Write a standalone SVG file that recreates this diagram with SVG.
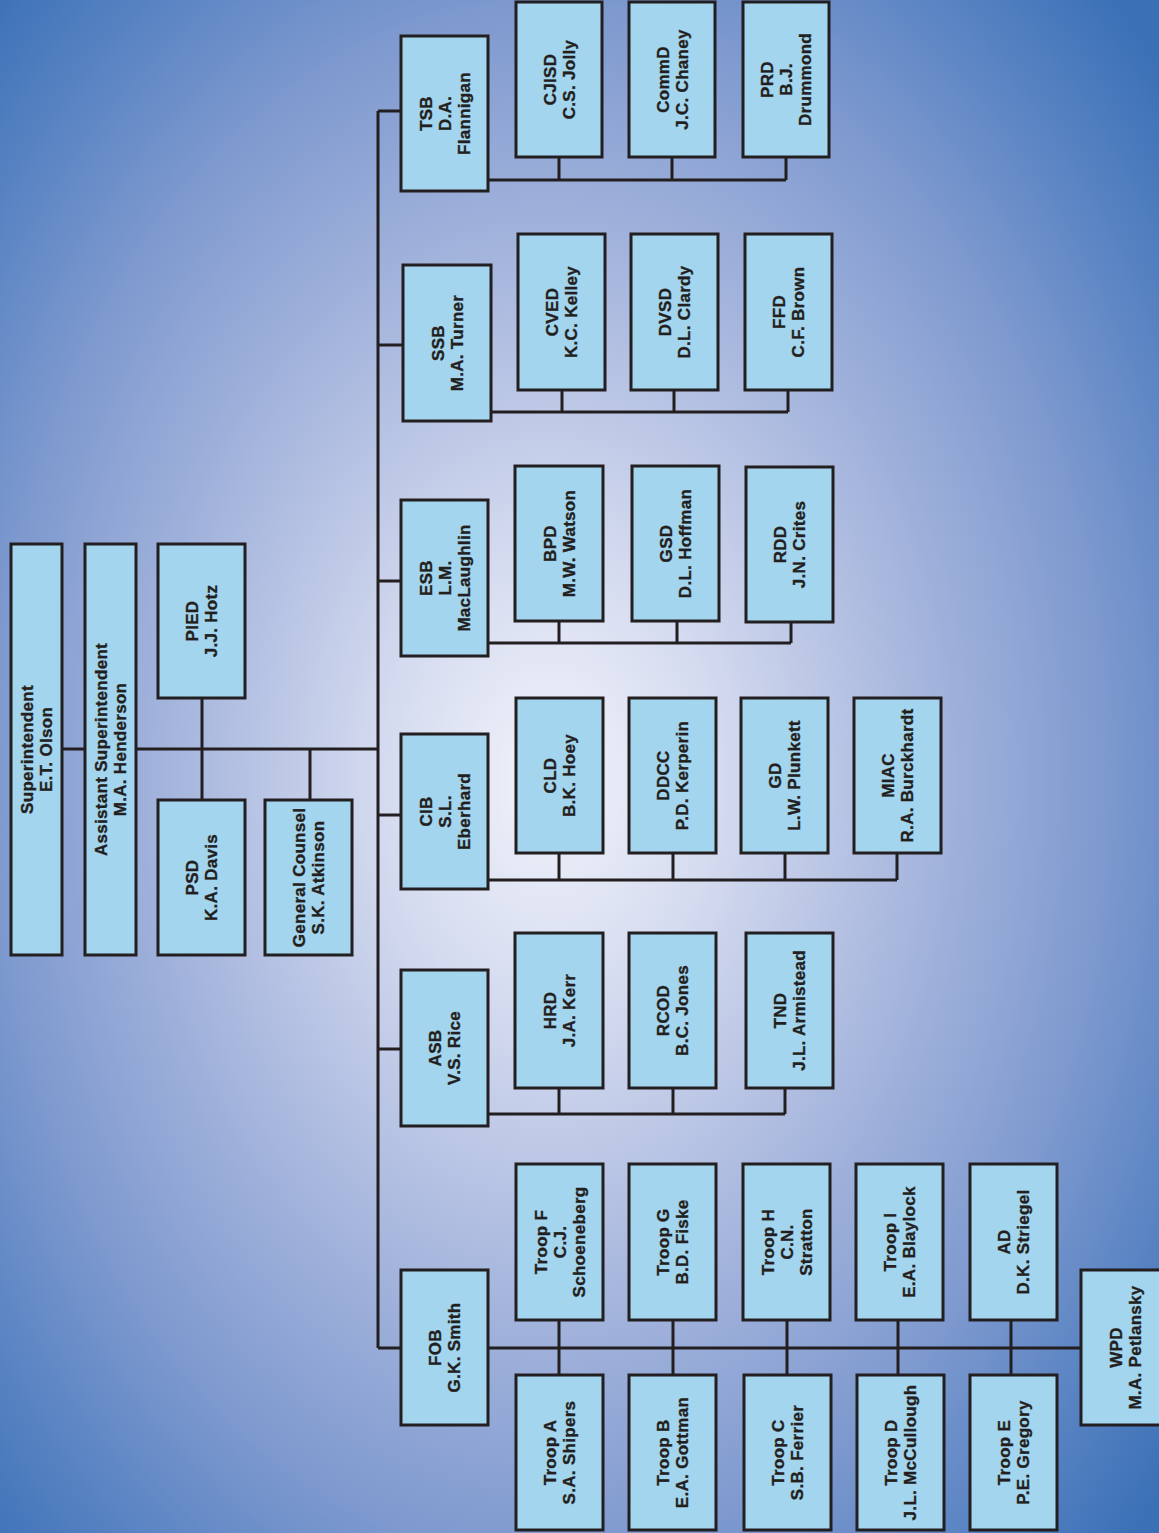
<svg xmlns="http://www.w3.org/2000/svg" width="1159" height="1533" viewBox="0 0 1159 1533">
<defs>
<radialGradient id="bg" cx="550" cy="780" r="800" gradientUnits="userSpaceOnUse" gradientTransform="translate(550 780) scale(1 1.39) translate(-550 -780)">
<stop offset="0" stop-color="#f2f3fa"/>
<stop offset="0.2" stop-color="#d6dcf0"/>
<stop offset="0.45" stop-color="#a9b8de"/>
<stop offset="0.69" stop-color="#7f9acf"/>
<stop offset="0.85" stop-color="#5a84c3"/>
<stop offset="1" stop-color="#3a70b6"/>
</radialGradient>
<style>
.box{fill:#a3d5ef;stroke:#231f20;stroke-width:3}
.t{font-family:"Liberation Sans",Arial,sans-serif;font-weight:bold;font-size:17px;fill:#231f20;stroke:#231f20;stroke-width:0.35px;text-anchor:middle;letter-spacing:0.3px}
.c{fill:none;stroke:#231f20;stroke-width:3}
</style>
</defs>
<rect x="0" y="0" width="1159" height="1533" fill="url(#bg)"/>

<g id="connectors" class="c">
<path d="M378 111 V1348"/>
<path d="M378 111 H401 M378 345 H403 M378 581 H401 M378 815 H401 M378 1049 H401 M378 1348 H401"/>
<path d="M62 749 H85 M137 749 H378 M202 698 V800 M310 749 V800"/>
<path d="M488 180 H786 M559 157 V180 M672 157 V180 M786 157 V180"/>
<path d="M491 412 H788 M562 390 V412 M674 390 V412 M788 390 V412"/>
<path d="M488 643 H791 M559 621 V643 M677 621 V643 M791 622 V643"/>
<path d="M488 880 H897 M559 853 V880 M673 853 V880 M785 853 V880 M897 853 V880"/>
<path d="M488 1114 H785 M559 1088 V1114 M673 1088 V1114 M785 1088 V1114"/>
<path d="M488 1348 H1081 M559 1320 V1375 M673 1320 V1375 M787 1320 V1375 M898 1320 V1375 M1011 1320 V1375"/>
</g>

<g id="superintendent"><rect class="box" x="11" y="544" width="51" height="411"/>
<text class="t" transform="translate(36.5 749.5) rotate(-90)"><tspan x="0" y="-3.5">Superintendent</tspan><tspan x="0" y="15.5">E.T. Olson</tspan></text></g>
<g id="asst-superintendent"><rect class="box" x="85" y="544" width="51" height="411"/>
<text class="t" transform="translate(110.5 749.5) rotate(-90)"><tspan x="0" y="-3.5">Assistant Superintendent</tspan><tspan x="0" y="15.5">M.A. Henderson</tspan></text></g>
<g id="pied"><rect class="box" x="158" y="544" width="87" height="154"/>
<text class="t" transform="translate(201.5 621) rotate(-90)"><tspan x="0" y="-3.5">PIED</tspan><tspan x="0" y="15.5">J.J. Hotz</tspan></text></g>
<g id="psd"><rect class="box" x="158" y="800" width="87" height="155"/>
<text class="t" transform="translate(201.5 877.5) rotate(-90)"><tspan x="0" y="-3.5">PSD</tspan><tspan x="0" y="15.5">K.A. Davis</tspan></text></g>
<g id="general-counsel"><rect class="box" x="265" y="800" width="87" height="155"/>
<text class="t" transform="translate(308.5 877.5) rotate(-90)"><tspan x="0" y="-3.5">General Counsel</tspan><tspan x="0" y="15.5">S.K. Atkinson</tspan></text></g>

<g id="tsb"><rect class="box" x="401" y="36" width="87" height="155"/>
<text class="t" transform="translate(444.5 113.5) rotate(-90)"><tspan x="0" y="-13">TSB</tspan><tspan x="0" y="6">D.A.</tspan><tspan x="0" y="25">Flannigan</tspan></text></g>
<g id="cjisd"><rect class="box" x="516" y="2" width="86" height="155"/>
<text class="t" transform="translate(559 79.5) rotate(-90)"><tspan x="0" y="-3.5">CJISD</tspan><tspan x="0" y="15.5">C.S. Jolly</tspan></text></g>
<g id="commd"><rect class="box" x="629" y="2" width="86" height="155"/>
<text class="t" transform="translate(672 79.5) rotate(-90)"><tspan x="0" y="-3.5">CommD</tspan><tspan x="0" y="15.5">J.C. Chaney</tspan></text></g>
<g id="prd"><rect class="box" x="743" y="2" width="86" height="155"/>
<text class="t" transform="translate(786 79.5) rotate(-90)"><tspan x="0" y="-13">PRD</tspan><tspan x="0" y="6">B.J.</tspan><tspan x="0" y="25">Drummond</tspan></text></g>

<g id="ssb"><rect class="box" x="403" y="265" width="88" height="156"/>
<text class="t" transform="translate(447 343) rotate(-90)"><tspan x="0" y="-3.5">SSB</tspan><tspan x="0" y="15.5">M.A. Turner</tspan></text></g>
<g id="cved"><rect class="box" x="518" y="234" width="87" height="156"/>
<text class="t" transform="translate(561.5 312) rotate(-90)"><tspan x="0" y="-3.5">CVED</tspan><tspan x="0" y="15.5">K.C. Kelley</tspan></text></g>
<g id="dvsd"><rect class="box" x="631" y="234" width="87" height="156"/>
<text class="t" transform="translate(674.5 312) rotate(-90)"><tspan x="0" y="-3.5">DVSD</tspan><tspan x="0" y="15.5">D.L. Clardy</tspan></text></g>
<g id="ffd"><rect class="box" x="745" y="234" width="87" height="156"/>
<text class="t" transform="translate(788.5 312) rotate(-90)"><tspan x="0" y="-3.5">FFD</tspan><tspan x="0" y="15.5">C.F. Brown</tspan></text></g>

<g id="esb"><rect class="box" x="401" y="500" width="87" height="156"/>
<text class="t" transform="translate(444.5 578) rotate(-90)"><tspan x="0" y="-13">ESB</tspan><tspan x="0" y="6">L.M.</tspan><tspan x="0" y="25">MacLaughlin</tspan></text></g>
<g id="bpd"><rect class="box" x="515" y="466" width="88" height="155"/>
<text class="t" transform="translate(559 543.5) rotate(-90)"><tspan x="0" y="-3.5">BPD</tspan><tspan x="0" y="15.5">M.W. Watson</tspan></text></g>
<g id="gsd"><rect class="box" x="632" y="466" width="87" height="155"/>
<text class="t" transform="translate(675.5 543.5) rotate(-90)"><tspan x="0" y="-3.5">GSD</tspan><tspan x="0" y="15.5">D.L. Hoffman</tspan></text></g>
<g id="rdd"><rect class="box" x="746" y="467" width="87" height="155"/>
<text class="t" transform="translate(789.5 544.5) rotate(-90)"><tspan x="0" y="-3.5">RDD</tspan><tspan x="0" y="15.5">J.N. Crites</tspan></text></g>

<g id="cib"><rect class="box" x="401" y="734" width="87" height="155"/>
<text class="t" transform="translate(444.5 811.5) rotate(-90)"><tspan x="0" y="-13">CIB</tspan><tspan x="0" y="6">S.L.</tspan><tspan x="0" y="25">Eberhard</tspan></text></g>
<g id="cld"><rect class="box" x="516" y="698" width="87" height="155"/>
<text class="t" transform="translate(559.5 775.5) rotate(-90)"><tspan x="0" y="-3.5">CLD</tspan><tspan x="0" y="15.5">B.K. Hoey</tspan></text></g>
<g id="ddcc"><rect class="box" x="629" y="698" width="87" height="155"/>
<text class="t" transform="translate(672.5 775.5) rotate(-90)"><tspan x="0" y="-3.5">DDCC</tspan><tspan x="0" y="15.5">P.D. Kerperin</tspan></text></g>
<g id="gd"><rect class="box" x="741" y="698" width="87" height="155"/>
<text class="t" transform="translate(784.5 775.5) rotate(-90)"><tspan x="0" y="-3.5">GD</tspan><tspan x="0" y="15.5">L.W. Plunkett</tspan></text></g>
<g id="miac"><rect class="box" x="854" y="698" width="87" height="155"/>
<text class="t" transform="translate(897.5 775.5) rotate(-90)"><tspan x="0" y="-3.5">MIAC</tspan><tspan x="0" y="15.5">R.A. Burckhardt</tspan></text></g>

<g id="asb"><rect class="box" x="401" y="970" width="87" height="156"/>
<text class="t" transform="translate(444.5 1048) rotate(-90)"><tspan x="0" y="-3.5">ASB</tspan><tspan x="0" y="15.5">V.S. Rice</tspan></text></g>
<g id="hrd"><rect class="box" x="515" y="933" width="88" height="155"/>
<text class="t" transform="translate(559 1010.5) rotate(-90)"><tspan x="0" y="-3.5">HRD</tspan><tspan x="0" y="15.5">J.A. Kerr</tspan></text></g>
<g id="rcod"><rect class="box" x="629" y="933" width="87" height="155"/>
<text class="t" transform="translate(672.5 1010.5) rotate(-90)"><tspan x="0" y="-3.5">RCOD</tspan><tspan x="0" y="15.5">B.C. Jones</tspan></text></g>
<g id="tnd"><rect class="box" x="746" y="933" width="87" height="155"/>
<text class="t" transform="translate(789.5 1010.5) rotate(-90)"><tspan x="0" y="-3.5">TND</tspan><tspan x="0" y="15.5">J.L. Armistead</tspan></text></g>

<g id="fob"><rect class="box" x="401" y="1270" width="87" height="155"/>
<text class="t" transform="translate(444.5 1347.5) rotate(-90)"><tspan x="0" y="-3.5">FOB</tspan><tspan x="0" y="15.5">G.K. Smith</tspan></text></g>
<g id="troop-f"><rect class="box" x="516" y="1164" width="87" height="156"/>
<text class="t" transform="translate(559.5 1242) rotate(-90)"><tspan x="0" y="-13">Troop F</tspan><tspan x="0" y="6">C.J.</tspan><tspan x="0" y="25">Schoeneberg</tspan></text></g>
<g id="troop-g"><rect class="box" x="629" y="1164" width="87" height="156"/>
<text class="t" transform="translate(672.5 1242) rotate(-90)"><tspan x="0" y="-3.5">Troop G</tspan><tspan x="0" y="15.5">B.D. Fiske</tspan></text></g>
<g id="troop-h"><rect class="box" x="743" y="1164" width="87" height="156"/>
<text class="t" transform="translate(786.5 1242) rotate(-90)"><tspan x="0" y="-13">Troop H</tspan><tspan x="0" y="6">C.N.</tspan><tspan x="0" y="25">Stratton</tspan></text></g>
<g id="troop-i"><rect class="box" x="856" y="1164" width="87" height="156"/>
<text class="t" transform="translate(899.5 1242) rotate(-90)"><tspan x="0" y="-3.5">Troop I</tspan><tspan x="0" y="15.5">E.A. Blaylock</tspan></text></g>
<g id="ad"><rect class="box" x="970" y="1164" width="87" height="156"/>
<text class="t" transform="translate(1013.5 1242) rotate(-90)"><tspan x="0" y="-3.5">AD</tspan><tspan x="0" y="15.5">D.K. Striegel</tspan></text></g>
<g id="troop-a"><rect class="box" x="516" y="1375" width="87" height="155"/>
<text class="t" transform="translate(559.5 1452.5) rotate(-90)"><tspan x="0" y="-3.5">Troop A</tspan><tspan x="0" y="15.5">S.A. Shipers</tspan></text></g>
<g id="troop-b"><rect class="box" x="629" y="1375" width="87" height="155"/>
<text class="t" transform="translate(672.5 1452.5) rotate(-90)"><tspan x="0" y="-3.5">Troop B</tspan><tspan x="0" y="15.5">E.A. Gottman</tspan></text></g>
<g id="troop-c"><rect class="box" x="744" y="1375" width="87" height="155"/>
<text class="t" transform="translate(787.5 1452.5) rotate(-90)"><tspan x="0" y="-3.5">Troop C</tspan><tspan x="0" y="15.5">S.B. Ferrier</tspan></text></g>
<g id="troop-d"><rect class="box" x="857" y="1375" width="87" height="155"/>
<text class="t" transform="translate(900.5 1452.5) rotate(-90)"><tspan x="0" y="-3.5">Troop D</tspan><tspan x="0" y="15.5">J.L. McCullough</tspan></text></g>
<g id="troop-e"><rect class="box" x="970" y="1375" width="87" height="155"/>
<text class="t" transform="translate(1013.5 1452.5) rotate(-90)"><tspan x="0" y="-3.5">Troop E</tspan><tspan x="0" y="15.5">P.E. Gregory</tspan></text></g>
<g id="wpd"><rect class="box" x="1081" y="1270" width="90" height="155"/>
<text class="t" transform="translate(1125.5 1347.5) rotate(-90)"><tspan x="0" y="-3.5">WPD</tspan><tspan x="0" y="15.5">M.A. Petlansky</tspan></text></g>
</svg>
